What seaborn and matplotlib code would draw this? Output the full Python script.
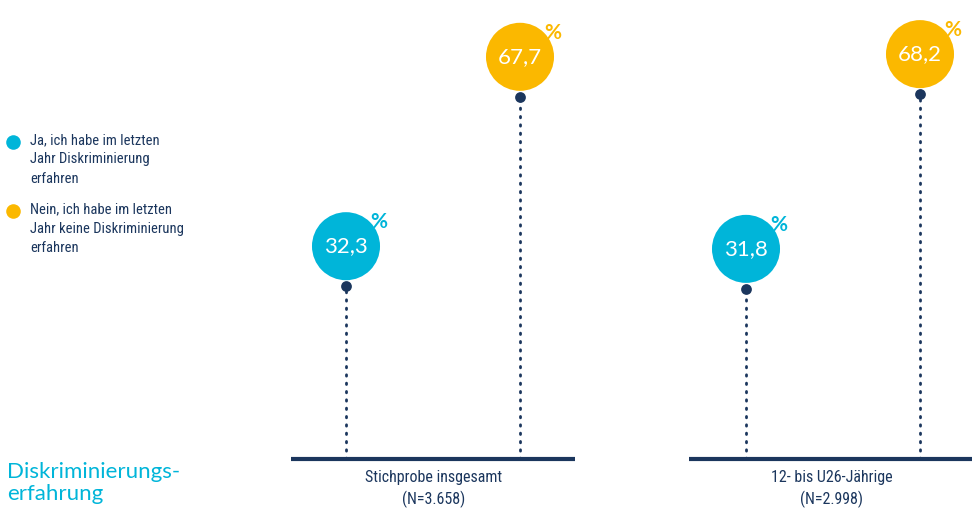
import matplotlib
matplotlib.use("Agg")
import matplotlib.pyplot as plt
import seaborn as sns
import pandas as pd

# Survey shares (percent) per sample group
groups = ["Stichprobe insgesamt", "12- bis U26-Jährige"]
sample_sizes = ["(N=3.658)", "(N=2.998)"]
ja_values = [32.3, 31.8]
nein_values = [67.7, 68.2]
legend_labels = [
    "Ja, ich habe im letzten\nJahr Diskriminierung\nerfahren",
    "Nein, ich habe im letzten\nJahr keine Diskriminierung\nerfahren",
]
title = "Diskriminierungs-\nerfahrung"

CYAN = "#00b5d9"
YELLOW = "#fbb800"
NAVY = "#1b365d"

W, H = 978, 526
sns.set_theme(style="white")
plt.rcParams["font.family"] = ["Roboto Condensed", "Liberation Sans Narrow",
                               "Roboto", "DejaVu Sans"]
GEO = ["Lato", "DejaVu Sans"]

fig = plt.figure(figsize=(W / 100, H / 100), dpi=100)
ax = fig.add_axes([0, 0, 1, 1])

# Horizontal pixel layout; vertical axis in percent
base_px = 67          # baseline height above bottom edge
scale = 5.35          # pixels per percentage point
ax.set_xlim(0, W)
ax.set_ylim(-base_px / scale, (H - base_px) / scale)
ax.axis("off")

group_spans = [(291, 575), (689, 972)]
stem_x = [(346, 520), (746, 920)]

rows = []
for g, (xj, xn), j, n in zip(groups, stem_x, ja_values, nein_values):
    rows.append({"group": g, "x": xj, "value": j, "kind": "ja"})
    rows.append({"group": g, "x": xn, "value": n, "kind": "nein"})
df = pd.DataFrame(rows)

px_to_y = 1 / scale
circle_off = 40 * px_to_y

# Dotted stems
for _, r in df.iterrows():
    ax.plot([r.x, r.x], [0, r.value], color=NAVY, lw=2, ls=(0, (0.5, 2.5)),
            dash_capstyle="round", zorder=1)

# Baselines per group
for (x0, x1) in group_spans:
    ax.plot([x0, x1], [0, 0], color=NAVY, lw=3, solid_capstyle="butt", zorder=2)

# Value markers (navy points)
sns.scatterplot(data=df, x="x", y="value", color=NAVY, s=60, linewidth=0,
                ax=ax, zorder=3, legend=False)

# Bubbles carrying the value labels
bub = df.assign(cy=df["value"] + circle_off)
sns.scatterplot(data=bub, x="x", y="cy", hue="kind",
                palette={"ja": CYAN, "nein": YELLOW}, s=2400, linewidth=0,
                ax=ax, zorder=4, legend=False)

for _, r in bub.iterrows():
    col = CYAN if r.kind == "ja" else YELLOW
    ax.text(r.x, r.cy, f"{r.value:.1f}".replace(".", ","), color="white",
            fontsize=16, family=GEO, ha="center", va="center", zorder=6)
    ax.text(r.x + 33, r.cy + 24 * px_to_y, "%", color=col, fontsize=15,
            family=GEO, fontweight="bold", ha="center", va="center", zorder=6)

# Category labels under baselines
for (x0, x1), g, n in zip(group_spans, groups, sample_sizes):
    ax.text((x0 + x1) / 2 + 1, -30 * px_to_y, g + "\n" + n, color=NAVY,
            fontsize=11.5, ha="center", va="center", linespacing=1.42)

# Legend
for i, (lab, col) in enumerate(zip(legend_labels, [CYAN, YELLOW])):
    ytop = H - base_px - (142 + i * 69)
    ax.scatter([13], [ytop * px_to_y], s=110, color=col, linewidth=0)
    ax.text(30, (ytop + 9) * px_to_y, lab, color=NAVY, fontsize=10.5,
            ha="left", va="top", linespacing=1.5)

# Block title
ax.text(7, -24 * px_to_y, title, color=CYAN, fontsize=16,
        family=GEO, ha="left", va="center", linespacing=1.08)

fig.savefig("out.png", dpi=100)
